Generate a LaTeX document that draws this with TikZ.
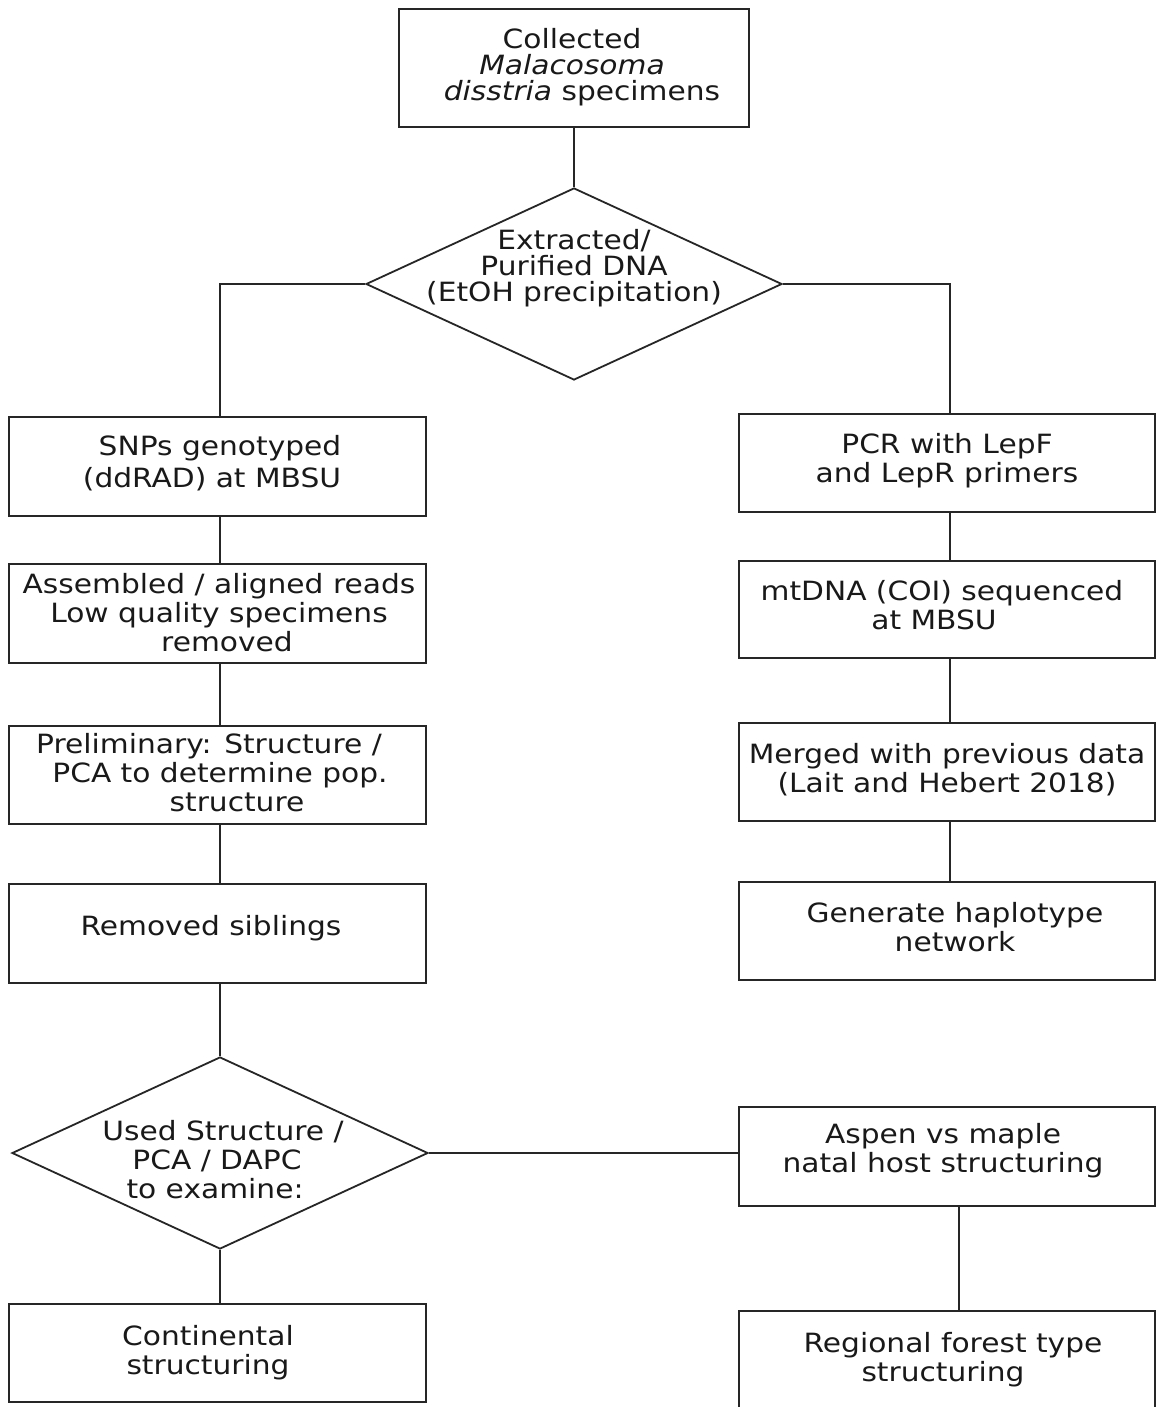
\documentclass[tikz,border=0pt]{standalone}
\usepackage{fontspec}
\setmainfont{DejaVu Sans}[FakeStretch=1.12]
\usetikzlibrary{shapes.geometric}
\tikzset{
  box/.style={draw=black!85, line width=1.8pt, rectangle, inner sep=0pt, fill=white},
  dia/.style={draw=black!85, line width=1.8pt, diamond, inner sep=0pt, fill=white},
  conn/.style={draw=black!85, line width=1.8pt},
  txt/.style={text=black!90, align=center, anchor=base, inner sep=0pt, font=\fontsize{26.5}{29}\selectfont},
  txttight/.style={txt, font=\fontsize{26.5}{26}\selectfont},
  txtwide/.style={txt, font=\fontsize{26.5}{32}\selectfont},
}
\newcommand{\padL}[1]{\hspace*{#1pt}}
\begin{document}
\begin{tikzpicture}[x=1pt,y=-1pt]
\fill[white] (0,0) rectangle (1156,1407);
\clip (0,0) rectangle (1156,1407);
% boxes
\node[box, minimum width=350pt, minimum height=118pt] (top) at (574,68) {};
\node[dia, minimum width=416pt, minimum height=192pt] (d1) at (574,284) {};
\node[box, minimum width=417pt, minimum height=99pt] (snp) at (217.5,466.5) {};
\node[box, minimum width=417pt, minimum height=99pt] (asm) at (217.5,613.5) {};
\node[box, minimum width=417pt, minimum height=98pt] (pre) at (217.5,775) {};
\node[box, minimum width=417pt, minimum height=99pt] (rem) at (217.5,933.5) {};
\node[dia, minimum width=416pt, minimum height=192pt] (d2) at (220,1153) {};
\node[box, minimum width=417pt, minimum height=98pt] (cont) at (217.5,1353) {};
\node[box, minimum width=416pt, minimum height=98pt] (pcr) at (947,463) {};
\node[box, minimum width=416pt, minimum height=97pt] (mt) at (947,609.5) {};
\node[box, minimum width=416pt, minimum height=98pt] (mer) at (947,772) {};
\node[box, minimum width=416pt, minimum height=98pt] (gen) at (947,931) {};
\node[box, minimum width=416pt, minimum height=99pt] (asp) at (947,1156.5) {};
\node[box, minimum width=416pt, minimum height=109pt] (reg) at (947,1365.5) {};
% connectors
\draw[conn] (top.south) -- (d1.north);
\draw[conn] (d1.west) -| (snp.north -| d2.north);
\draw[conn] (d1.east) -| ([xshift=3pt]pcr.north);
\draw[conn] (snp.south -| d2.north) -- (asm.north -| d2.north);
\draw[conn] (asm.south -| d2.north) -- (pre.north -| d2.north);
\draw[conn] (pre.south -| d2.north) -- (rem.north -| d2.north);
\draw[conn] (rem.south -| d2.north) -- (d2.north);
\draw[conn] (d2.south) -- (cont.north -| d2.south);
\draw[conn] ([xshift=3pt]pcr.south) -- ([xshift=3pt]mt.north);
\draw[conn] ([xshift=3pt]mt.south) -- ([xshift=3pt]mer.north);
\draw[conn] ([xshift=3pt]mer.south) -- ([xshift=3pt]gen.north);
\draw[conn] (d2.east) -- (d2.east -| asp.west);
\draw[conn] ([xshift=12pt]asp.south) -- ([xshift=12pt]reg.north);
% texts (anchored at the baseline of the last line)
\node[txttight] (tTop) at (572,101) {Collected\\\textit{Malacosoma}\\\padL{20}\textit{disstria} specimens};
\node[txttight] (tD1) at (574,301) {Extracted/\\Purified DNA\padL{10}\\(EtOH precipitation)};
\node[txtwide] (tSnp) at (216,487) {\padL{8}SNPs genotyped\\(ddRAD) at MBSU\padL{8}};
\node[txt] (tAsm) at (219,651) {Assembled / aligned reads\\Low quality specimens\padL{14}\\\padL{16}removed};
\node[txt] (tPre) at (220,811) {Preliminary: Structure /\padL{22}\\PCA to determine pop.\\\padL{34}structure};
\node[txt] (tRem) at (211,935) {Removed siblings};
\node[txt] (tD2) at (217,1198) {\padL{12}Used Structure /\\PCA / DAPC\padL{10}\\to examine:\padL{4}};
\node[txt] (tCont) at (208,1374) {Continental\\structuring};
\node[txt] (tPcr) at (947,482) {PCR with LepF\\and LepR primers};
\node[txt] (tMt) at (942,629) {mtDNA (COI) sequenced\\at MBSU\padL{16}};
\node[txt] (tMer) at (947,792) {Merged with previous data\\(Lait and Hebert 2018)};
\node[txt] (tGen) at (955,951) {Generate haplotype\\network};
\node[txt] (tAsp) at (943,1172) {Aspen vs maple\\natal host structuring};
\node[txt] (tReg) at (950,1381) {\padL{6}Regional forest type\\structuring\padL{14}};
\end{tikzpicture}
\end{document}
